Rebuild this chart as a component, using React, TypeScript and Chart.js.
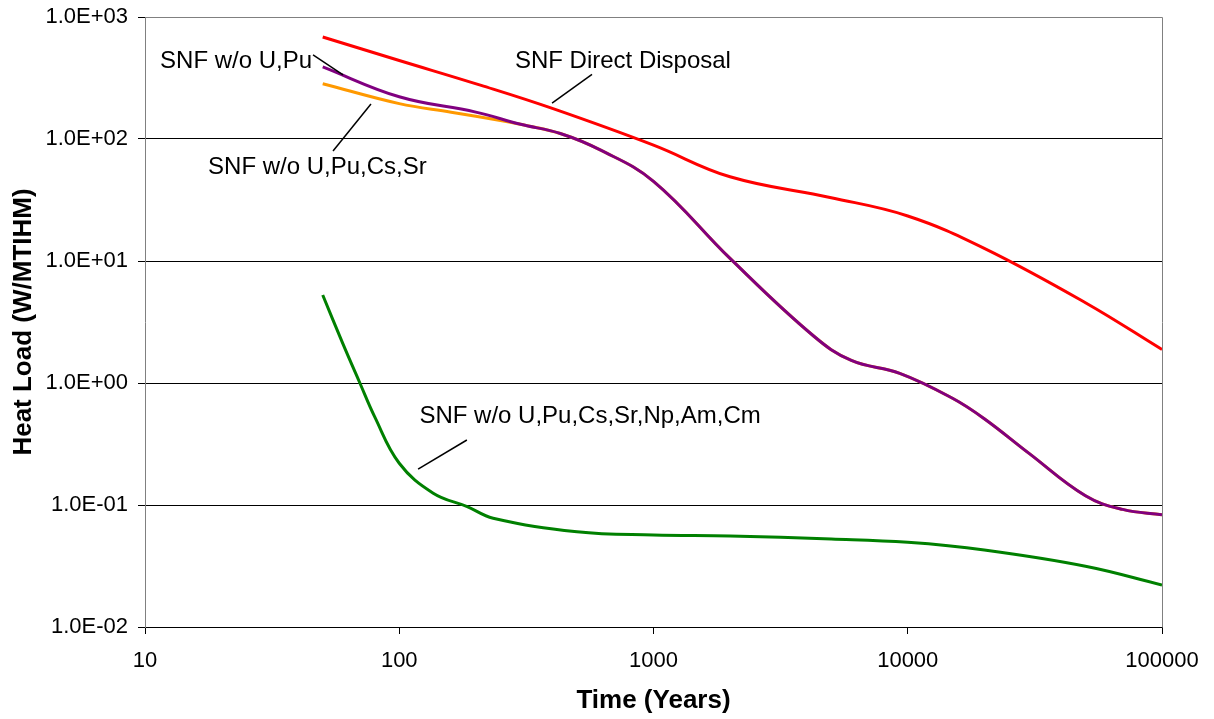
import React, { useEffect, useRef } from 'react';
import { Chart, registerables } from 'chart.js';

Chart.register(...registerables);

// ---- Data ----
const directTime = [50, 100, 210, 400, 1000, 2000, 5000, 10000, 20000, 50000, 100000];
const directHeat = [685, 440, 275, 178, 89, 49, 33, 23.4, 12.7, 4.55, 1.88];

const uPuTime = [50, 100, 200, 300, 430, 620, 1000, 2000, 4240, 6000, 9300, 15000, 20000, 30000, 50000, 70000, 100000];
const uPuHeat = [390, 222, 166, 132, 111, 81, 45, 10.5, 2.45, 1.53, 1.2, 0.75, 0.51, 0.265, 0.119, 0.092, 0.083];

const csSrTime = [50, 100, 160, 250, 300, 430, 620, 1000, 2000, 4240, 6000, 9300, 15000, 20000, 30000, 50000, 70000, 100000];
const csSrHeat = [284, 195, 166, 142, 132, 111, 81, 45, 10.5, 2.45, 1.53, 1.2, 0.75, 0.51, 0.265, 0.119, 0.092, 0.083];

const actTime = [50, 60, 70, 80, 100, 136, 185, 234, 500, 1000, 2000, 5000, 10000, 20000, 50000, 100000];
const actHeat = [5.26, 2.1, 1.0, 0.53, 0.22, 0.125, 0.097, 0.078, 0.0604, 0.0567, 0.0557, 0.0526, 0.0494, 0.0428, 0.0315, 0.0221];

const xTicks = [10, 100, 1000, 10000, 100000];
const xTickLabels = ['10', '100', '1000', '10000', '100000'];
const yTicks = [0.01, 0.1, 1, 10, 100, 1000];
const yTickLabels = ['1.0E-02', '1.0E-01', '1.0E+00', '1.0E+01', '1.0E+02', '1.0E+03'];

const seriesNames = ['SNF Direct Disposal', 'SNF w/o U,Pu', 'SNF w/o U,Pu,Cs,Sr', 'SNF w/o U,Pu,Cs,Sr,Np,Am,Cm'];

// Callout labels, positioned in data coordinates (time, heat)
const noteText = seriesNames;
const noteAt: [number, number][] = [[285, 382], [11.46, 380], [17.7, 51.6], [120, 0.468]];
const noteFrom: [number, number][] = [[399, 197], [45.8, 489], [54.9, 79.8], [118.6, 0.197]];
const noteTo: [number, number][] = [[573, 339], [60.1, 335], [77.4, 193.6], [184.5, 0.341]];

const FONT = '"Liberation Sans", Arial, Helvetica, sans-serif';

export default function App() {
  const ref = useRef<HTMLCanvasElement>(null);

  useEffect(() => {
    if (!ref.current) return;
    const pts = (xs: number[], ys: number[]) => xs.map((x, i) => ({ x, y: ys[i] }));

    const framePlugin = {
      id: 'frame',
      beforeDatasetsDraw(chart: any) {
        const { ctx, chartArea } = chart;
        const l = Math.round(chartArea.left) + 0.5;
        const t = Math.round(chartArea.top) + 0.5;
        const r = Math.round(chartArea.right) + 0.5;
        const b = Math.round(chartArea.bottom) + 0.5;
        ctx.save();
        ctx.strokeStyle = '#808080';
        ctx.lineWidth = 1;
        ctx.beginPath();
        ctx.moveTo(l, t);
        ctx.lineTo(r, t);
        ctx.lineTo(r, b);
        ctx.stroke();
        ctx.restore();
      },
    };

    const notePlugin = {
      id: 'notes',
      afterDatasetsDraw(chart: any) {
        const { ctx } = chart;
        const xs = chart.scales.x;
        const ys = chart.scales.y;
        ctx.save();
        ctx.strokeStyle = '#000';
        ctx.lineWidth = 1.5;
        ctx.fillStyle = '#000';
        ctx.font = `24px ${FONT}`;
        ctx.textAlign = 'left';
        ctx.textBaseline = 'alphabetic';
        noteText.forEach((text, i) => {
          ctx.beginPath();
          ctx.moveTo(xs.getPixelForValue(noteFrom[i][0]), ys.getPixelForValue(noteFrom[i][1]));
          ctx.lineTo(xs.getPixelForValue(noteTo[i][0]), ys.getPixelForValue(noteTo[i][1]));
          ctx.stroke();
          ctx.fillText(text, xs.getPixelForValue(noteAt[i][0]), ys.getPixelForValue(noteAt[i][1]));
        });
        ctx.restore();
      },
    };

    const line = (label: string, data: any[], color: string, order: number) => ({
      label,
      data,
      borderColor: color,
      backgroundColor: color,
      borderWidth: 3,
      pointRadius: 0,
      fill: false,
      tension: 0.4,
      order,
    });

    const chart = new Chart(ref.current, {
      type: 'line',
      data: {
        datasets: [
          line(seriesNames[1], pts(uPuTime, uPuHeat), '#800080', 0),
          line(seriesNames[0], pts(directTime, directHeat), '#FF0000', 1),
          line(seriesNames[2], pts(csSrTime, csSrHeat), '#FF9900', 2),
          line(seriesNames[3], pts(actTime, actHeat), '#008000', 3),
        ],
      },
      options: {
        animation: false,
        responsive: false,
        layout: { padding: { top: 17, right: 52, left: 0, bottom: 0 } },
        plugins: { legend: { display: false }, tooltip: { enabled: false } },
        scales: {
          x: {
            type: 'logarithmic',
            min: 10,
            max: 100000,
            afterBuildTicks: (s: any) => {
              s.ticks = xTicks.map((v) => ({ value: v }));
            },
            afterFit: (s: any) => {
              s.height = 92;
              s.paddingLeft = 0;
              s.paddingRight = 0;
            },
            ticks: {
              autoSkip: false,
              maxRotation: 0,
              padding: 14,
              color: '#000',
              font: { family: FONT, size: 22 },
              callback: (v: any) => xTickLabels[xTicks.indexOf(Number(v))] ?? '',
            },
            grid: { drawOnChartArea: false, drawTicks: true, tickLength: 7, color: '#000' },
            border: { display: true, color: '#000', width: 1 },
            title: {
              display: true,
              text: 'Time (Years)',
              color: '#000',
              font: { family: FONT, size: 26, weight: 'bold' },
              padding: { top: 0, bottom: 3 },
            },
          },
          y: {
            type: 'logarithmic',
            min: 0.01,
            max: 1000,
            afterBuildTicks: (s: any) => {
              s.ticks = yTicks.map((v) => ({ value: v }));
            },
            afterFit: (s: any) => {
              s.width = 145;
              s.paddingTop = 0;
              s.paddingBottom = 0;
            },
            ticks: {
              autoSkip: false,
              padding: 10,
              color: '#000',
              font: { family: FONT, size: 22 },
              callback: (v: any) => yTickLabels[yTicks.indexOf(Number(v))] ?? '',
            },
            grid: { drawOnChartArea: true, drawTicks: true, tickLength: 7, color: '#000', lineWidth: 1 },
            border: { display: true, color: '#808080', width: 1 },
            title: {
              display: true,
              text: 'Heat Load (W/MTIHM)',
              color: '#000',
              font: { family: FONT, size: 26, weight: 'bold' },
              padding: { top: 8, bottom: 0 },
            },
          },
        },
      },
      plugins: [framePlugin, notePlugin],
    });

    return () => chart.destroy();
  }, []);

  return (
    <div style={{ position: 'fixed', left: 0, top: 0, width: 1214, height: 719, background: '#fff' }}>
      <canvas ref={ref} width={1214} height={719} style={{ display: 'block' }} />
    </div>
  );
}
